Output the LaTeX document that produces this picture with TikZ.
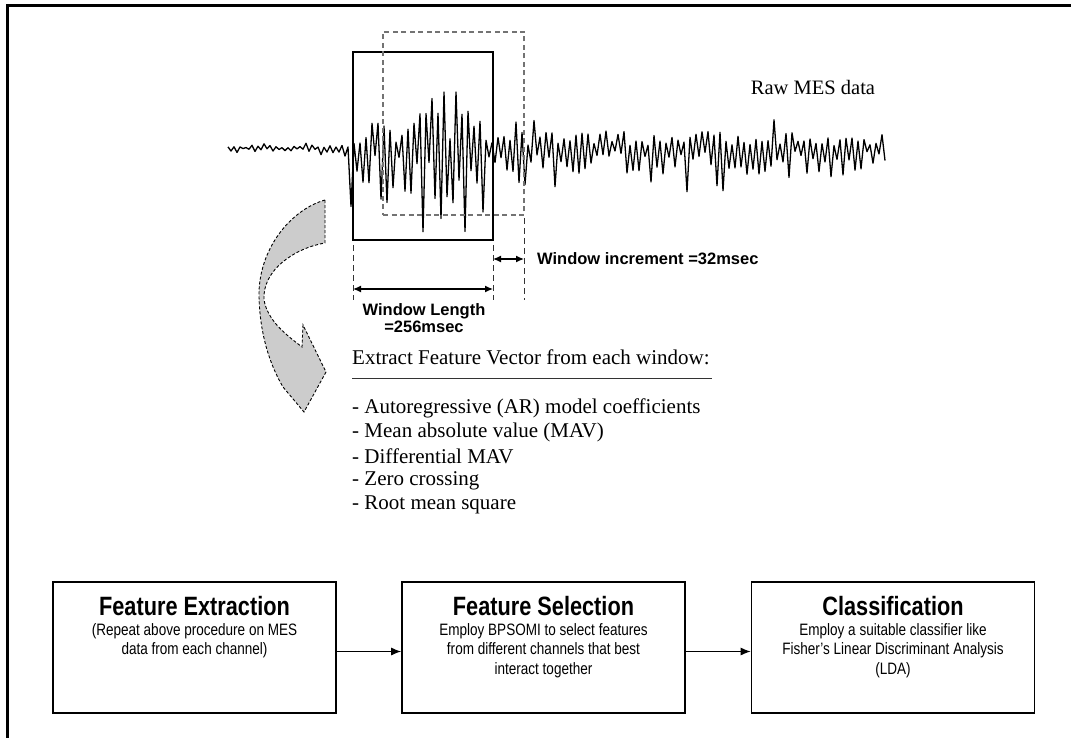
\documentclass[tikz,border=0pt]{standalone}
\usepackage{fontspec}
\setmainfont{Liberation Serif}
\setsansfont{Liberation Sans}
\newfontfamily\narrowsans[FakeStretch=0.82]{Liberation Sans}
\usetikzlibrary{arrows.meta,calc}
\begin{document}
\begin{tikzpicture}[x=1pt,y=-1pt,
  frameline/.style={line width=3pt,black},
  signal/.style={line width=1.3pt,line join=round,black},
  winbox/.style={draw=black,line width=2.6pt},
  shiftbox/.style={draw=black!55,line width=1.6pt,dash pattern=on 5pt off 3.5pt},
  guide/.style={draw=black!80,line width=0.9pt,dash pattern=on 6pt off 4pt},
  dimarrow/.style={line width=1.2pt,{Latex[length=8pt,width=7pt]}-{Latex[length=8pt,width=7pt]}},
  bigarrow/.style={fill=black!20,draw=black,line width=0.9pt,densely dashed},
  seriftext/.style={font=\fontsize{21}{24}\selectfont,inner sep=0pt},
  lbl/.style={font=\sffamily\bfseries\fontsize{16.5}{17}\selectfont,inner sep=0pt},
  stagebox/.style={draw=black,line width=1.7pt,minimum width=283pt,minimum height=131pt,inner sep=0pt},
  stagetitle/.style={font=\narrowsans\bfseries\fontsize{26.5}{28}\selectfont,inner sep=0pt},
  stagebody/.style={font=\narrowsans\fontsize{16.5}{19.5}\selectfont,align=center,inner sep=0pt},
  flow/.style={line width=1.1pt,-{Latex[length=10pt,width=8pt]}},
  declare function={env(\x)=(\x<350)*3+and(\x>=350,\x<522)*37+(\x>=522)*17;
                    sg(\k)=1-2*mod(\k,2);
                    amp(\x,\k)=env(\x)*sg(\k)*(0.1+0.9*rnd)*(sg(\k)<0 ? 1.6 : 1)*(rnd>0.8 ? 1.8 : 1);}
]
\useasboundingbox (0,0) rectangle (1071,738);
% outer frame
\draw[frameline] (7,738) -- (7,6) -- (1071,6);

% raw signal
\pgfmathsetseed{4242}
\draw[signal] plot[variable=\k, samples at={0,...,219}]
  ({228+3*\k},{148-max(-84,min(56,amp(228+3*\k,\k)))});

% windows
\node[winbox,minimum width=140pt,minimum height=188pt,inner sep=0pt] (win) at (423,146) {};
\node[shiftbox,minimum width=141pt,minimum height=183pt,inner sep=0pt] (win2) at (453.5,123.5) {};

\node[font=\fontsize{20.5}{22}\selectfont,inner sep=0pt] (raw) at (813,87) {Raw MES data};

% guides
\coordinate (g1t) at (353,245); \coordinate (g1b) at (353,300);
\coordinate (g2t) at (493,245); \coordinate (g2b) at (493,300);
\coordinate (g3t) at (524,218); \coordinate (g3b) at (524,300);
\draw[guide] (g1t) -- (g1b);
\draw[guide] (g2t) -- (g2b);
\draw[guide] (g3t) -- (g3b);

\coordinate (wl1) at (353,289); \coordinate (wl2) at (493,289);
\coordinate (wi1) at (493,259); \coordinate (wi2) at (524,259);
\draw[dimarrow] (wl1) -- (wl2);
\draw[dimarrow] (wi1) -- (wi2);

\node[lbl,anchor=west] (inc) at (537,259) {Window increment =32msec};
\node[lbl,align=center] (len) at (424,318) {Window Length\\=256msec};

% curved arrow
\draw[bigarrow] (325,200) .. controls (290,210) and (258,250) .. (259,297)
  .. controls (260,335) and (270,365) .. (283,387) -- (304,412) -- (326,372)
  -- (303,325) -- (302,347) .. controls (288,336) and (268,322) .. (264,300)
  .. controls (262,270) and (295,248) .. (325,243) -- cycle;

% feature list
\node[seriftext,anchor=west] (hdr) at (352,357) {Extract Feature Vector from each window:};
\draw[line width=1.2pt,black!80] ($(hdr.south west)+(0,14)$) -- ($(hdr.south east)+(2,14)$);
\node[seriftext,anchor=west] (f1) at (352,408) {- Autoregressive (AR) model coefficients};
\node[seriftext,anchor=west] (f2) at (352,432) {- Mean absolute value (MAV)};
\node[seriftext,anchor=west] (f3) at (352,456) {- Differential MAV};
\node[seriftext,anchor=west] (f4) at (352,481) {- Zero crossing};
\node[seriftext,anchor=west] (f5) at (352,505) {- Root mean square};

% stage boxes
\node[stagebox] (fe) at (194.5,647.5) {};
\node[stagebox] (fs) at (543.5,647.5) {};
\node[stagebox] (cl) at (893,647.5) {};

\node[stagetitle] (fet) at (194.5,606) {Feature Extraction};
\node[stagetitle] (fst) at (543.5,606) {Feature Selection};
\node[stagetitle] (clt) at (893,606) {Classification};

\node[stagebody,anchor=north] (feb) at (194.5,623) {(Repeat above procedure on MES\\data from each channel)};
\node[stagebody,anchor=north] (fsb) at (543.5,623) {Employ BPSOMI to select features\\from different channels that best\\interact together};
\node[stagebody,anchor=north] (clb) at (893,623) {Employ a suitable classifier like\\Fisher’s Linear Discriminant Analysis\\(LDA)};

\draw[flow] ([yshift=-4pt]fe.east) -- ([yshift=-4pt]fs.west);
\draw[flow] ([yshift=-4pt]fs.east) -- ([yshift=-4pt]cl.west);
\end{tikzpicture}
\end{document}
